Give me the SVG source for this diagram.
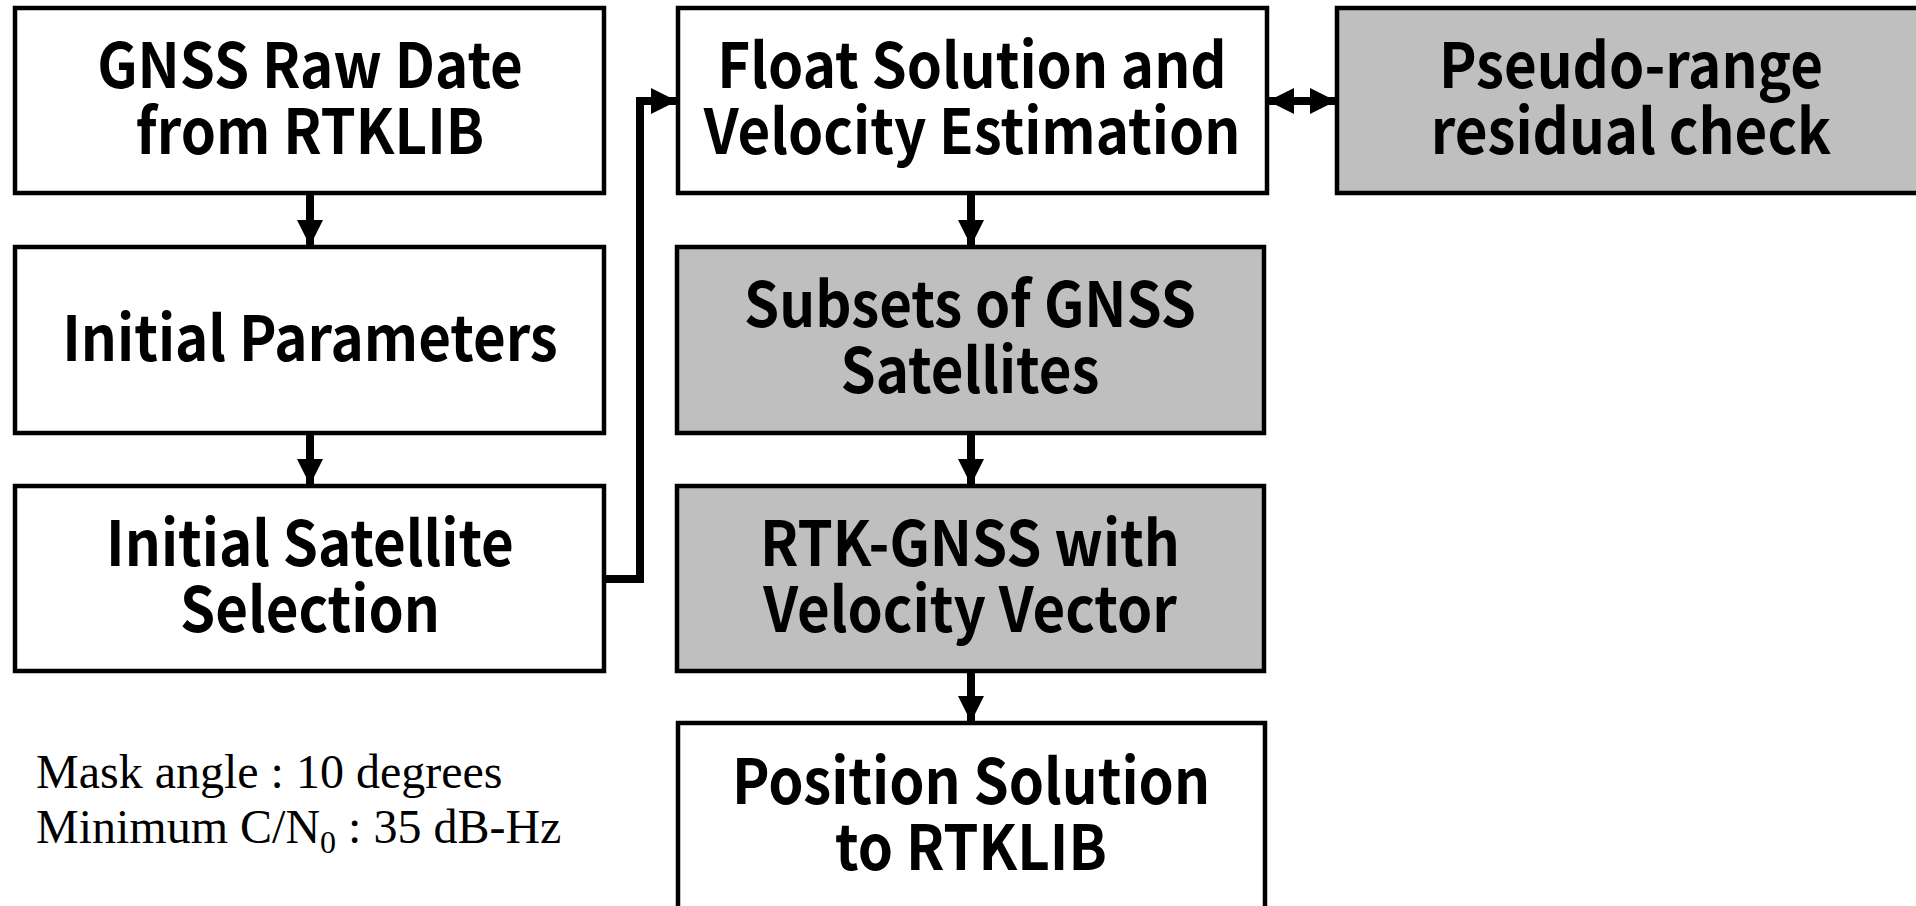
<svg xmlns="http://www.w3.org/2000/svg" width="1916" height="906" viewBox="0 0 1916 906">
<style>
.box{fill:#ffffff;stroke:#000;stroke-width:4.5}
.gray{fill:#bfbfbf;stroke:#000;stroke-width:4.5}
.lbl{font-family:"Noto Sans CJK JP","Noto Sans",sans-serif;font-weight:bold;font-size:62px;fill:#000;text-anchor:middle}
.note{font-family:"Liberation Serif","Times New Roman",serif;font-size:48px;fill:#000}
.conn{stroke:#000;stroke-width:8;fill:none}
</style>
<defs>
<marker id="ah" viewBox="0 0 10 10" refX="10" refY="5" markerWidth="26" markerHeight="26" orient="auto-start-reverse" markerUnits="userSpaceOnUse">
<path d="M0,0 L10,5 L0,10 Z" fill="#000"/>
</marker>
</defs>
<rect width="1916" height="906" fill="#fff"/>
<g id="connectors">
<line class="conn" x1="310" y1="195" x2="310" y2="246" marker-end="url(#ah)"/>
<line class="conn" x1="310" y1="435" x2="310" y2="485" marker-end="url(#ah)"/>
<polyline class="conn" points="606,579 640,579 640,101 677,101" marker-end="url(#ah)"/>
<line class="conn" x1="971" y1="195" x2="971" y2="246" marker-end="url(#ah)"/>
<line class="conn" x1="971" y1="435" x2="971" y2="485" marker-end="url(#ah)"/>
<line class="conn" x1="971" y1="673" x2="971" y2="722" marker-end="url(#ah)"/>
<line class="conn" x1="1268" y1="101" x2="1336" y2="101" marker-start="url(#ah)" marker-end="url(#ah)"/>
</g>
<g id="n1"><rect class="box" x="15" y="8" width="589" height="185"/><text class="lbl" transform="translate(310 0) scale(0.91 1)" x="0" y="88">GNSS Raw Date<tspan x="0" dy="66">from RTKLIB</tspan></text></g>
<g id="n2"><rect class="box" x="15" y="247" width="589" height="186"/><text class="lbl" transform="translate(310 0) scale(0.91 1)" x="0" y="361">Initial Parameters</text></g>
<g id="n3"><rect class="box" x="15" y="486" width="589" height="185"/><text class="lbl" transform="translate(310 0) scale(0.91 1)" x="0" y="566">Initial Satellite<tspan x="0" dy="66">Selection</tspan></text></g>
<g id="n4"><rect class="box" x="678" y="8" width="589" height="185"/><text class="lbl" transform="translate(972 0) scale(0.91 1)" x="0" y="88">Float Solution and<tspan x="0" dy="66">Velocity Estimation</tspan></text></g>
<g id="n5"><rect class="gray" x="677" y="247" width="587" height="186"/><text class="lbl" transform="translate(970 0) scale(0.91 1)" x="0" y="327">Subsets of GNSS<tspan x="0" dy="66">Satellites</tspan></text></g>
<g id="n6"><rect class="gray" x="677" y="486" width="587" height="185"/><text class="lbl" transform="translate(970 0) scale(0.91 1)" x="0" y="566">RTK-GNSS with<tspan x="0" dy="66">Velocity Vector</tspan></text></g>
<g id="n7"><rect class="box" x="678" y="723" width="587" height="190"/><text class="lbl" transform="translate(971 0) scale(0.91 1)" x="0" y="804">Position Solution<tspan x="0" dy="66">to RTKLIB</tspan></text></g>
<g id="n8"><rect class="gray" x="1337" y="8" width="590" height="185"/><text class="lbl" transform="translate(1631 0) scale(0.91 1)" x="0" y="88">Pseudo-range<tspan x="0" dy="66">residual check</tspan></text></g>
<g id="note">
<text class="note" x="36" y="788">Mask angle : 10 degrees</text>
<text class="note" x="36" y="843">Minimum C/N<tspan font-size="32" dy="10">0</tspan><tspan dy="-10"> : 35 dB-Hz</tspan></text>
</g>
</svg>
